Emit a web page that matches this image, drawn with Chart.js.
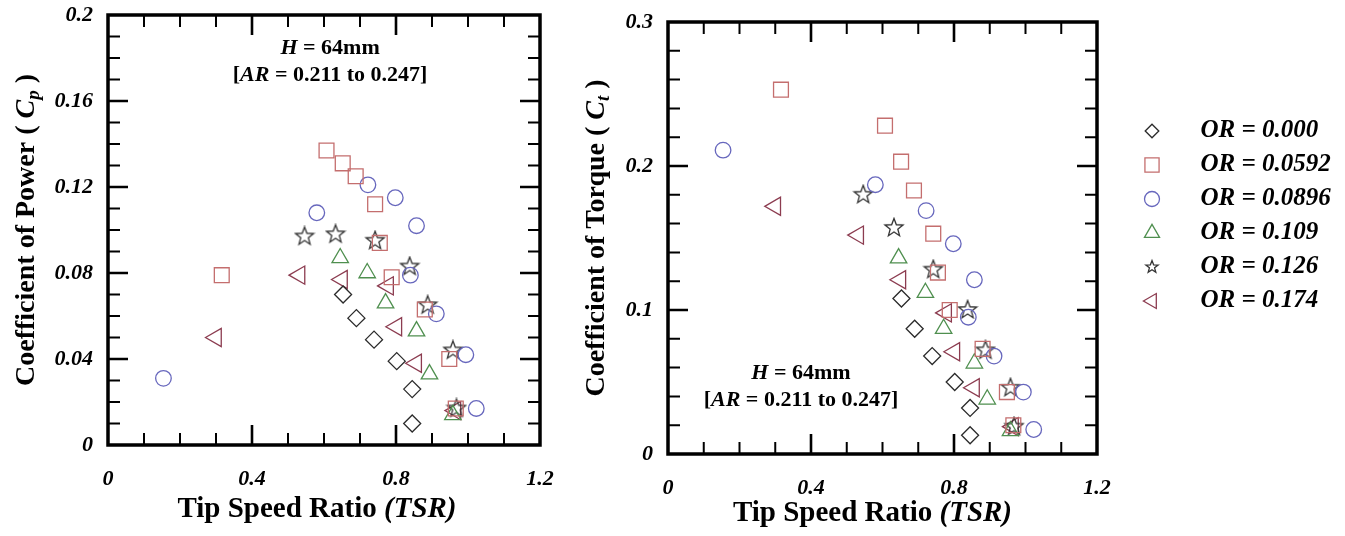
<!DOCTYPE html>
<html>
<head>
<meta charset="utf-8">
<script src="https://cdn.jsdelivr.net/npm/chart.js@4.4.1/dist/chart.umd.min.js"></script>
<style>
body { margin: 0; background: #fff; }
#left { position: absolute; left: 0; top: 0; }
#right { position: absolute; left: 560px; top: 0; }
</style>
</head>
<body>
<canvas id="left" width="560" height="536"></canvas>
<canvas id="right" width="785" height="536"></canvas>
<script>
// values: TSR, power coefficient, torque coefficient
const tsr000 = [0.653, 0.690, 0.739, 0.802, 0.845, 0.845]
const cp000 = [0.070, 0.059, 0.049, 0.039, 0.026, 0.010]
const ct000 = [0.108, 0.087, 0.068, 0.050, 0.032, 0.013]

const tsr0592 = [0.316, 0.607, 0.652, 0.688, 0.742, 0.755, 0.788, 0.880, 0.948, 0.966]
const cp0592 = [0.079, 0.137, 0.131, 0.125, 0.112, 0.094, 0.078, 0.063, 0.040, 0.017]
const ct0592 = [0.253, 0.228, 0.203, 0.183, 0.153, 0.126, 0.100, 0.073, 0.043, 0.020]

const tsr0896 = [0.154, 0.580, 0.722, 0.798, 0.857, 0.840, 0.912, 0.994, 1.023]
const cp0896 = [0.031, 0.108, 0.121, 0.115, 0.102, 0.079, 0.061, 0.042, 0.017]
const ct0896 = [0.211, 0.187, 0.169, 0.146, 0.121, 0.095, 0.068, 0.043, 0.017]

const tsr109 = [0.645, 0.720, 0.771, 0.857, 0.893, 0.958]
const cp109 = [0.087, 0.080, 0.066, 0.053, 0.033, 0.014]
const ct109 = [0.136, 0.112, 0.087, 0.063, 0.038, 0.016]

const tsr126 = [0.546, 0.632, 0.742, 0.838, 0.888, 0.958, 0.968]
const cp126 = [0.097, 0.098, 0.095, 0.083, 0.065, 0.044, 0.017]
const ct126 = [0.180, 0.157, 0.128, 0.100, 0.072, 0.046, 0.019]

const tsr174 = [0.300, 0.532, 0.650, 0.778, 0.801, 0.856, 0.965]
const cp174 = [0.050, 0.079, 0.077, 0.074, 0.055, 0.038, 0.016]
const ct174 = [0.172, 0.152, 0.121, 0.098, 0.071, 0.046, 0.019]

const orLabels = ['OR = 0.000', 'OR = 0.0592', 'OR = 0.0896', 'OR = 0.109', 'OR = 0.126', 'OR = 0.174']
const xTickLabels = ['0', '0.4', '0.8', '1.2']
const cpTickLabels = ['0', '0.04', '0.08', '0.12', '0.16', '0.2']
const ctTickLabels = ['0', '0.1', '0.2', '0.3']

const SERIF = "'Liberation Serif', 'Times New Roman', serif"

// marker looks per series
const markers = [
  { shape: 'diamond', style: 'rectRot', radius: 8.5, legendR: 6.8, rotation: 0, color: '#2b2b2b' },
  { shape: 'square', style: 'rect', radius: 10.5, legendR: 10, rotation: 0, color: '#c46e6e' },
  { shape: 'circle', style: 'circle', radius: 7.8, legendR: 7.5, rotation: 0, color: '#6767bd' },
  { shape: 'triangle', style: 'triangle', radius: 9.5, legendR: 8.7, rotation: 0, color: '#4f8f4f' },
  { shape: 'star', style: null, radius: 9.5, legendR: 6.5, rotation: 0, color: '#333333' },
  { shape: 'triangle', style: 'triangle', radius: 10.5, legendR: 8.6, rotation: -90, color: '#8c3c50' },
]

function makeIcon(m, r, w, h, cx) {
  const c = document.createElement('canvas')
  c.width = w
  c.height = h
  const g = c.getContext('2d')
  const cy = h / 2
  g.strokeStyle = m.color
  g.lineWidth = 1.3
  g.beginPath()
  if (m.shape === 'diamond') {
    g.moveTo(cx - r, cy); g.lineTo(cx, cy - r); g.lineTo(cx + r, cy); g.lineTo(cx, cy + r); g.closePath()
  } else if (m.shape === 'square') {
    const s = r * Math.SQRT1_2
    g.rect(cx - s, cy - s, 2 * s, 2 * s)
  } else if (m.shape === 'circle') {
    g.arc(cx, cy, r, 0, Math.PI * 2)
  } else if (m.shape === 'triangle') {
    let a = m.rotation * Math.PI / 180
    for (let k = 0; k < 3; k++) {
      const px = cx + Math.sin(a) * r, py = cy - Math.cos(a) * r
      k === 0 ? g.moveTo(px, py) : g.lineTo(px, py)
      a += Math.PI * 2 / 3
    }
    g.closePath()
  } else if (m.shape === 'star') {
    for (let k = 0; k < 10; k++) {
      const rr = k % 2 === 0 ? r : r * 0.42
      const a = -Math.PI / 2 + k * Math.PI / 5
      const px = cx + Math.cos(a) * rr, py = cy + Math.sin(a) * rr
      k === 0 ? g.moveTo(px, py) : g.lineTo(px, py)
    }
    g.closePath()
  }
  g.stroke()
  return c
}

const starImg = makeIcon(markers[4], 9.5, 22, 22, 11)
const legendIcons = markers.map(m => makeIcon(m, m.legendR, 32, 24, 21))

function buildDatasets(tsrs, vals) {
  return tsrs.map((t, i) => ({
    label: orLabels[i],
    data: t.map((x, k) => ({ x: x, y: vals[i][k] })),
    pointStyle: markers[i].style || starImg,
    pointRadius: markers[i].radius,
    pointRotation: markers[i].rotation,
    borderColor: markers[i].color,
    backgroundColor: 'rgba(0,0,0,0)',
    borderWidth: 1.3,
  }))
}

function tickFrom(list) {
  return function(value) {
    const hit = list.find(l => Math.abs(Number(l) - value) < 1e-9)
    return hit === undefined ? '' : hit
  }
}

function drawRich(ctx, parts, cx, cy) {
  let total = 0
  parts.forEach(p => { ctx.font = p.f; p.w = ctx.measureText(p.t).width; total += p.w })
  let x = cx - total / 2
  ctx.textAlign = 'left'
  ctx.textBaseline = 'alphabetic'
  parts.forEach(p => { ctx.font = p.f; ctx.fillText(p.t, x, cy + (p.dy || 0)); x += p.w })
}

const B = s => 'bold ' + s + 'px ' + SERIF
const BI = s => 'italic bold ' + s + 'px ' + SERIF

// frame, inward ticks and the labels that mix plain and italic type
function framePlugin(cfg) {
  return {
    id: 'frame',
    beforeDatasetsDraw(chart) {
      const { ctx, chartArea: a } = chart
      const xs = chart.scales.x, ys = chart.scales.y
      ctx.save()
      ctx.strokeStyle = '#000'
      xs.ticks.forEach(t => {
        if (t.value <= xs.min + 1e-9 || t.value >= xs.max - 1e-9) return
        const px = xs.getPixelForValue(t.value)
        const major = t.label !== ''
        const len = major ? 20 : 12
        ctx.lineWidth = major ? 2.6 : 2
        ctx.beginPath()
        ctx.moveTo(px, a.bottom); ctx.lineTo(px, a.bottom - len)
        ctx.moveTo(px, a.top); ctx.lineTo(px, a.top + len)
        ctx.stroke()
      })
      ys.ticks.forEach(t => {
        if (t.value <= ys.min + 1e-9 || t.value >= ys.max - 1e-9) return
        const py = ys.getPixelForValue(t.value)
        const major = t.label !== ''
        const len = major ? 20 : 12
        ctx.lineWidth = major ? 2.6 : 2
        ctx.beginPath()
        ctx.moveTo(a.left, py); ctx.lineTo(a.left + len, py)
        ctx.moveTo(a.right, py); ctx.lineTo(a.right - len, py)
        ctx.stroke()
      })
      ctx.lineWidth = 3.5
      ctx.strokeRect(a.left, a.top, a.right - a.left, a.bottom - a.top)

      ctx.fillStyle = '#000'
      const midX = (a.left + a.right) / 2
      drawRich(ctx, [{ t: 'Tip Speed Ratio ', f: B(29) }, { t: '(TSR)', f: BI(29) }], midX + cfg.xTitleDx, a.bottom + cfg.xTitleDy)

      ctx.save()
      ctx.translate(cfg.yTitleX, (a.top + a.bottom) / 2)
      ctx.rotate(-Math.PI / 2)
      drawRich(ctx, [
        { t: cfg.yTitle + ' ( ', f: B(28) },
        { t: 'C', f: BI(28) },
        { t: cfg.sub, f: BI(19), dy: 5 },
        { t: ' )', f: B(28) },
      ], 0, 9)
      ctx.restore()

      const nx = xs.getPixelForValue(cfg.noteX), ny = ys.getPixelForValue(cfg.noteY)
      drawRich(ctx, [{ t: 'H', f: BI(22) }, { t: ' = 64mm', f: B(22) }], nx, ny)
      drawRich(ctx, [{ t: '[', f: B(22) }, { t: 'AR', f: BI(22) }, { t: ' = 0.211 to 0.247]', f: B(22) }], nx, ny + 27)
      ctx.restore()
    }
  }
}

// keep the legend at a set width so the plot frame stays where it is
function legendWidthPlugin(w) {
  return {
    id: 'legendWidth',
    afterInit(chart) {
      const lg = chart.legend
      const fit = lg.fit
      lg.fit = function() { fit.call(this); this.width = w }
    }
  }
}

const tickFont = { family: SERIF, size: 22, weight: 'bold', style: 'italic' }

function fixSize(s, w, h) {
  if (w) s.width = w
  if (h) s.height = h
  s.paddingTop = 0
  s.paddingBottom = 0
  s.paddingLeft = 0
  s.paddingRight = 0
}

function scalesFor(yMax, yStep, yLabels, xHeight) {
  return {
    x: {
      type: 'linear', min: 0, max: 1.2,
      grid: { display: false, drawTicks: false },
      border: { display: false },
      ticks: { stepSize: 0.1, autoSkip: false, maxRotation: 0, padding: 21, color: '#000', font: tickFont, callback: tickFrom(xTickLabels) },
      afterFit(s) { fixSize(s, 0, xHeight) },
    },
    y: {
      type: 'linear', min: 0, max: yMax,
      grid: { display: false, drawTicks: false },
      border: { display: false },
      ticks: { stepSize: yStep, autoSkip: false, padding: 15, color: '#000', font: tickFont, callback: tickFrom(yLabels) },
      afterFit(s) { fixSize(s, 108, 0) },
    },
  }
}

new Chart(document.getElementById('left'), {
  type: 'scatter',
  data: { datasets: buildDatasets([tsr000, tsr0592, tsr0896, tsr109, tsr126, tsr174], [cp000, cp0592, cp0896, cp109, cp126, cp174]) },
  options: {
    responsive: false,
    animation: false,
    layout: { padding: { top: 15, right: 20, bottom: 0, left: 0 } },
    scales: scalesFor(0.2, 0.01, cpTickLabels, 91),
    plugins: { legend: { display: false }, tooltip: { enabled: false } },
  },
  plugins: [framePlugin({ xTitleDx: -7, xTitleDy: 72, yTitle: 'Coefficient of Power', sub: 'p', yTitleX: 25, noteX: 0.617, noteY: 0.182 })],
})

new Chart(document.getElementById('right'), {
  type: 'scatter',
  data: { datasets: buildDatasets([tsr000, tsr0592, tsr0896, tsr109, tsr126, tsr174], [ct000, ct0592, ct0896, ct109, ct126, ct174]) },
  options: {
    responsive: false,
    animation: false,
    layout: { padding: { top: 22, right: 0, bottom: 0, left: 0 } },
    scales: scalesFor(0.3, 0.02, ctTickLabels, 82),
    plugins: {
      tooltip: { enabled: false },
      legend: {
        display: true,
        position: 'right',
        align: 'start',
        title: { display: true, text: '', padding: { top: 75.5, bottom: 0 }, font: { size: 10 } },
        labels: {
          usePointStyle: true,
          pointStyleWidth: 82,
          padding: 9,
          color: '#000',
          font: { family: SERIF, size: 25, weight: 'bold', style: 'italic' },
          generateLabels: chart => chart.data.datasets.map((ds, i) => ({
            text: ds.label,
            datasetIndex: i,
            hidden: false,
            pointStyle: legendIcons[i],
            rotation: 0,
            fillStyle: 'rgba(0,0,0,0)',
            strokeStyle: 'rgba(0,0,0,0)',
            lineWidth: 0,
            fontColor: '#000',
          })),
        },
      },
    },
  },
  plugins: [
    legendWidthPlugin(248),
    framePlugin({ xTitleDx: -10, xTitleDy: 67, yTitle: 'Coefficient of Torque', sub: 't', yTitleX: 35, noteX: 0.372, noteY: 0.052 }),
  ],
})
</script>
</body>
</html>
